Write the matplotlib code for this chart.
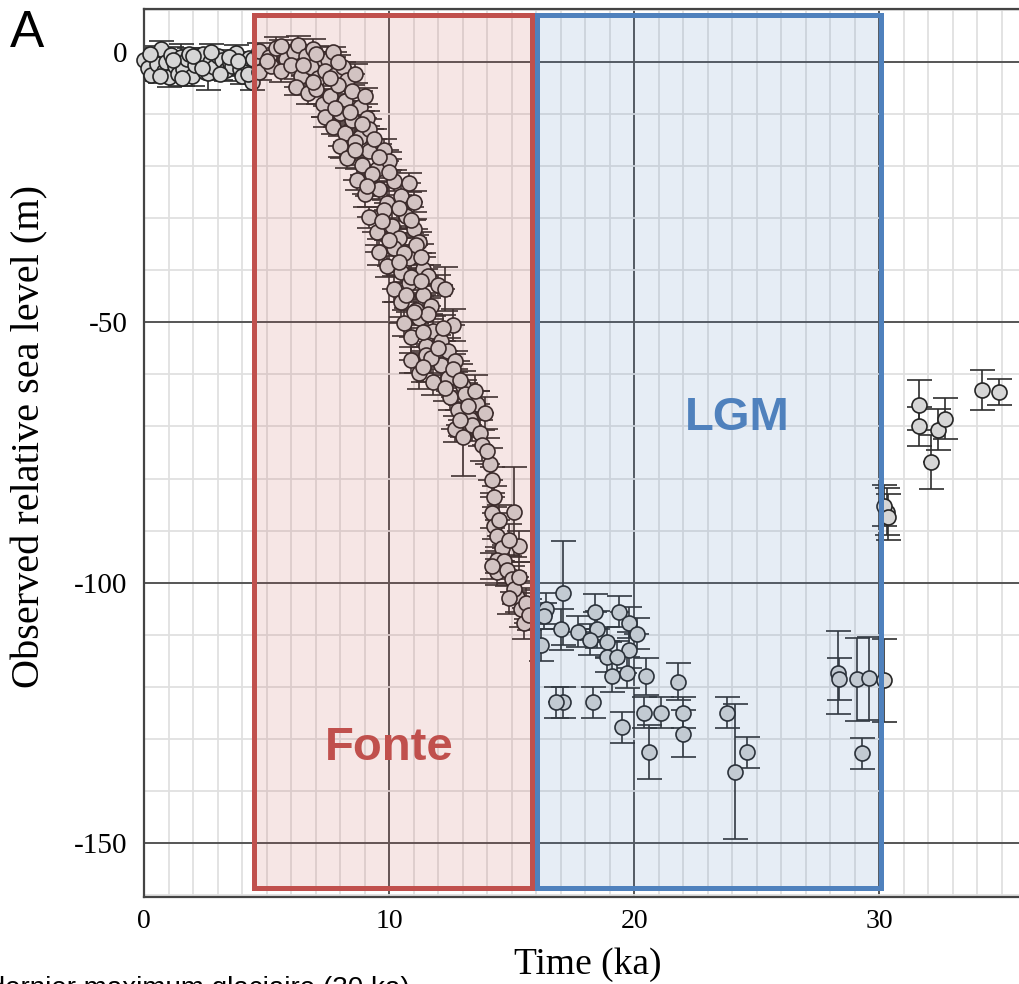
import matplotlib
matplotlib.use("Agg")
import matplotlib.pyplot as plt
import matplotlib.transforms as mtransforms
from matplotlib.patches import Rectangle
from matplotlib.ticker import MultipleLocator
import numpy as np

plt.rcParams['axes.unicode_minus'] = False

# ---- Holocene plateau (0-4.5 ka) ----
holo_t = [0.0, 0.15, 0.3, 0.45, 0.55, 0.7, 0.8, 0.9, 1.0, 1.1,
          1.25, 1.4, 1.5, 1.6, 1.75, 1.85, 1.95, 2.1, 2.25, 2.4,
          2.5, 2.6, 2.7, 2.85, 3.0, 3.2, 3.35, 3.5, 3.6, 3.75,
          3.9, 4.0, 4.15, 4.3, 4.4,
          0.25, 0.65, 1.2, 1.55, 2.0, 2.35, 2.75, 3.1, 3.45, 3.85,
          4.25, 4.45]
holo_z = [0.4, -1.2, -2.4, 1.1, -0.3, 2.6, -1.8, 0.0, -2.9, 1.4,
          -0.8, -2.2, 1.0, -1.4, 0.6, 1.5, -2.6, -0.5, 0.9, 1.6,
          -1.9, -2.1, 0.1, -1.0, 1.2, 0.4, -1.6, -0.2, -0.7, 1.8,
          -1.3, -2.7, -0.4, 0.8, -3.8,
          1.5, -2.6, 0.4, -3.0, 1.2, -1.2, 1.9, -2.3, 1.0, 0.3,
          -2.2, 0.5]
holo_terr = [0.2, 0.3, 0.15, 0.4, 0.25, 0.3, 0.2, 0.5, 0.3, 0.2,
             0.35, 0.25, 0.4, 0.2, 0.3, 0.45, 0.2, 0.3, 0.25, 0.5,
             0.2, 0.3, 0.35, 0.4, 0.25, 0.3, 0.2, 0.45, 0.3, 0.35,
             0.25, 0.4, 0.3, 0.2, 0.35,
             0.3, 0.4, 0.25, 0.3, 0.5, 0.3, 0.4, 0.35, 0.3, 0.45,
             0.3, 0.4]
holo_zerr = [1.0, 1.5, 1.2, 2.0, 1.0, 1.5, 1.2, 1.0, 1.8, 1.5,
             1.0, 1.2, 2.5, 1.0, 1.5, 1.2, 2.0, 1.0, 1.5, 1.2,
             1.0, 3.2, 1.0, 1.5, 1.2, 1.0, 2.0, 1.2, 1.0, 1.5,
             1.2, 1.5, 1.0, 1.2, 1.5,
             1.2, 1.5, 1.0, 1.5, 1.2, 1.0, 1.5, 1.2, 1.0, 1.5,
             1.2, 1.0]

# ---- Deglaciation (4.5-16 ka) ----
deglac_t = [4.7, 5.1, 5.4, 5.8, 6.1, 6.3, 6.6, 6.9, 7.2, 7.5, 7.7,
            4.7, 5.2, 5.6, 6.0, 6.4, 6.8, 7.1, 7.4, 7.8, 8.1, 8.3,
            6.2, 6.7, 7.0, 7.3, 7.6, 7.9, 8.2, 8.5, 8.8, 9.0,
            7.4, 7.7, 8.0, 8.2, 8.5, 8.8, 9.1, 9.2,
            8.0, 8.3, 8.6, 8.9, 9.2, 9.5, 9.8, 10.0,
            8.7, 9.0, 9.3, 9.6, 9.9, 10.2, 10.5, 10.8, 11.0,
            9.2, 9.5, 9.8, 10.1, 10.4, 10.7, 11.0, 11.2,
            9.6, 9.9, 10.2, 10.5, 10.8, 11.1, 11.4, 11.6,
            10.2, 10.5, 10.8, 11.1, 11.4, 11.7, 12.0, 12.3,
            10.6, 10.9, 11.2, 11.5, 11.8, 12.1, 12.4, 12.6,
            10.9, 11.2, 11.5, 11.8, 12.1, 12.4, 12.7, 13.0,
            12.5, 12.8, 13.1, 13.3, 13.6, 13.9, 12.7, 13.0, 13.4, 13.7,
            14.1, 14.2, 14.3, 14.2, 15.1, 14.3, 14.4, 14.6, 15.3, 14.4,
            14.7, 14.4, 14.8, 15.0, 15.2, 15.4, 15.5, 15.1, 15.6,
            5.0, 5.6, 6.5, 7.0, 7.9, 6.9, 7.6, 8.6,
            7.8, 8.4, 8.9, 8.6, 9.4, 9.6,
            9.1, 10.0, 10.4, 9.7, 10.9, 10.0, 10.6, 11.3, 10.4, 10.9,
            11.3, 10.7, 11.6, 11.0, 11.4, 12.2, 11.7, 12.0, 11.4, 12.6,
            12.3, 12.9, 13.2, 13.5, 12.9, 13.8, 14.0,
            14.5, 14.9, 14.2, 15.3, 14.9, 15.7]
deglac_z = [2.2, 1.0, 2.8, 0.6, 2.0, 3.3, 1.2, 2.5, 0.8, 0.4, 1.9,
            -1.9, -0.8, -1.8, -0.5, -2.6, -1.0, -3.1, -1.7, -2.4, -0.9, -3.5,
            -4.8, -6.0, -5.2, -8.0, -6.6, -4.4, -7.4, -5.6, -8.6, -6.5,
            -10.5, -12.4, -9.8, -13.6, -11.2, -14.3, -10.8, -12.9,
            -16.2, -18.5, -15.4, -19.7, -17.0, -20.6, -16.8, -19.0,
            -22.6, -25.4, -21.5, -24.3, -27.0, -22.8, -25.8, -23.2, -26.8,
            -29.8, -32.6, -28.5, -31.4, -33.8, -29.6, -32.0, -34.6,
            -36.4, -39.2, -35.8, -40.4, -37.6, -35.2, -39.7, -41.0,
            -43.5, -46.0, -42.4, -47.6, -44.7, -46.8, -42.9, -43.6,
            -50.2, -52.8, -49.1, -54.6, -51.7, -53.5, -55.6, -50.5,
            -57.3, -59.8, -56.2, -61.4, -58.2, -60.6, -57.5, -62.3,
            -64.3, -66.8, -63.7, -68.5, -65.6, -67.4, -70.4, -72.0, -69.8, -71.2,
            -77.2, -80.2, -83.5, -86.6, -86.4, -89.2, -91.0, -93.4, -93.0, -95.6,
            -95.8, -98.0, -97.6, -99.4, -102.7, -105.0, -107.8, -101.2, -104.0,
            0.2, 3.0, -0.6, 1.5, 0.1, -3.8, -3.0, -2.2,
            -8.8, -9.5, -11.8, -16.8, -14.8, -18.2,
            -23.8, -21.2, -28.0, -30.6, -30.4, -34.2, -36.6, -37.4, -38.4, -41.2,
            -42.0, -44.8, -48.4, -48.0, -51.8, -51.0, -56.8, -55.0, -58.5, -59.0,
            -62.6, -61.0, -66.0, -63.2, -68.8, -73.6, -74.8,
            -88.0, -91.8, -96.8, -99.0, -103.0, -106.2]
deglac_terr = [0.3, 0.5, 0.4, 0.6, 0.3, 0.5, 0.7, 0.4, 0.5, 0.3, 0.6,
               0.4, 0.3, 0.6, 0.5, 0.4, 0.7, 0.3, 0.5, 0.6, 0.4, 0.5,
               0.5, 0.6, 0.4, 0.7, 0.5, 0.3, 0.6, 0.4, 0.5, 0.3,
               0.6, 0.4, 0.5, 0.7, 0.3, 0.5, 0.4, 0.6,
               0.5, 0.7, 0.4, 0.6, 0.5, 0.3, 0.6, 0.4,
               0.6, 0.5, 0.7, 0.4, 0.5, 0.6, 0.3, 0.5, 0.4,
               0.5, 0.6, 0.4, 0.7, 0.5, 0.4, 0.6, 0.3,
               0.6, 0.4, 0.5, 0.7, 0.4, 0.5, 0.6, 0.4,
               0.5, 0.7, 0.4, 0.6, 0.5, 0.4, 0.6, 0.4,
               0.6, 0.5, 0.7, 0.4, 0.5, 0.6, 0.4, 0.5,
               0.5, 0.6, 0.4, 0.7, 0.5, 0.4, 0.6, 0.5,
               0.4, 0.5, 0.6, 0.3, 0.5, 0.4, 0.6, 0.5, 0.4, 0.3,
               0.2, 0.3, 0.2, 0.3, 0.2, 0.3, 0.2, 0.4, 0.3, 0.3,
               0.4, 0.3, 0.4, 0.3, 0.4, 0.3, 0.4, 0.3, 0.3,
               0.5, 0.4, 0.6, 0.5, 0.4, 0.6, 0.5, 0.4,
               0.6, 0.5, 0.5, 0.6, 0.5, 0.6,
               0.6, 0.5, 0.7, 0.5, 0.6, 0.6, 0.5, 0.6, 0.7, 0.5,
               0.6, 0.5, 0.6, 0.7, 0.5, 0.6, 0.6, 0.5, 0.6, 0.6,
               0.5, 0.7, 0.5, 0.6, 0.5, 0.4, 0.3,
               0.3, 0.4, 0.3, 0.4, 0.3, 0.3]
deglac_zerr = [1.5, 1.2, 2.0, 1.5, 1.2, 1.8, 1.5, 2.0, 1.2, 1.5, 1.0,
               1.5, 1.2, 2.0, 1.0, 1.8, 1.5, 2.2, 1.2, 1.5, 1.0, 2.0,
               1.5, 2.0, 1.2, 2.5, 1.5, 1.8, 2.0, 1.2, 3.0, 1.5,
               2.0, 1.5, 2.5, 1.8, 2.0, 3.0, 1.5, 2.0,
               2.0, 1.8, 2.5, 2.0, 1.5, 2.5, 2.0, 1.8,
               2.0, 2.5, 1.8, 2.0, 3.0, 2.0, 2.5, 1.8, 2.0,
               2.0, 2.5, 2.0, 3.0, 2.0, 2.5, 1.8, 2.0,
               2.5, 2.0, 3.0, 2.0, 2.5, 2.0, 3.0, 2.0,
               2.5, 3.0, 2.0, 2.5, 3.0, 2.5, 2.0, 4.2,
               2.5, 3.0, 2.0, 2.5, 3.0, 2.0, 2.5, 3.0,
               2.5, 3.0, 2.0, 2.5, 3.0, 2.5, 2.0, 3.0,
               2.5, 3.0, 2.0, 3.0, 2.5, 3.0, 2.5, 7.6, 3.0, 2.5,
               3.0, 2.5, 2.0, 3.0, 8.7, 2.5, 3.0, 2.5, 3.0, 2.5,
               3.0, 2.5, 3.0, 2.5, 3.0, 3.5, 3.0, 3.0, 3.0,
               1.5, 1.2, 1.8, 1.5, 1.2, 2.0, 1.5, 1.8,
               2.0, 2.0, 2.5, 2.0, 2.0, 2.5,
               2.0, 2.5, 2.5, 2.0, 2.5, 2.5, 3.0, 2.5, 2.5, 2.5,
               3.0, 2.5, 3.0, 2.5, 3.0, 2.5, 3.0, 2.5, 3.0, 3.0,
               2.5, 3.0, 2.5, 3.0, 3.0, 3.0, 2.5,
               3.0, 3.0, 2.5, 3.0, 3.0, 3.0]

# ---- Last Glacial Maximum lowstand (16-25 ka) ----
lgm_t = [16.4, 16.3, 16.2, 17.1, 18.4, 19.4, 19.8, 20.1, 17.0, 17.7,
         18.5, 18.2, 18.9, 19.8, 18.9, 19.3, 19.1, 19.7, 20.5, 21.8,
         17.1, 18.3, 16.8, 20.4, 21.1, 22.0, 22.0, 19.5, 20.6, 23.8,
         24.6, 24.1]
lgm_z = [-105.0, -106.5, -112.0, -102.0, -105.6, -105.6, -107.7, -109.8, -109.0, -109.4,
         -109.0, -111.0, -111.5, -112.9, -114.2, -114.2, -118.0, -117.3, -118.0, -119.0,
         -123.0, -123.0, -123.0, -125.0, -125.0, -125.0, -129.0, -127.8, -132.6, -125.0,
         -132.6, -136.3]
lgm_terr = [0.3, 0.4, 0.3, 0.2, 0.5, 0.4, 0.3, 0.5, 0.4, 0.6,
            0.5, 0.4, 0.6, 0.3, 0.5, 0.4, 0.3, 0.4, 0.2, 0.2,
            0.3, 0.2, 0.3, 0.2, 0.2, 0.2, 0.2, 0.2, 0.2, 0.2,
            0.2, 0.2]
lgm_zerr = [3.0, 2.5, 3.0, 10.0, 3.4, 3.0, 3.0, 3.0, 4.0, 3.0,
            3.5, 3.0, 3.0, 3.5, 3.0, 3.0, 3.0, 3.0, 3.5, 3.5,
            3.0, 3.0, 3.0, 3.0, 3.0, 3.0, 4.5, 3.0, 5.2, 3.0,
            3.0, 13.0]

# ---- Pre-LGM (28-35 ka) ----
pre_t = [28.3, 28.35, 29.1, 29.6, 30.2, 29.3, 30.3, 30.2, 30.35, 31.6,
         31.6, 32.1, 32.4, 32.7, 34.2, 34.9]
pre_z = [-117.3, -118.5, -118.6, -118.4, -118.8, -132.8, -86.4, -85.2, -87.4, -65.8,
         -70.0, -76.8, -70.6, -68.5, -63.0, -63.3]
pre_terr = [0.2, 0.2, 0.2, 0.2, 0.2, 0.2, 0.2, 0.2, 0.2, 0.2,
            0.2, 0.3, 0.3, 0.3, 0.2, 0.2]
pre_zerr = [8.0, 4.0, 8.0, 8.0, 8.0, 3.0, 4.5, 4.0, 4.5, 4.8,
            3.7, 5.2, 4.0, 4.0, 3.8, 2.5]

# Periods highlighted on the chart (ka)
melt_period = (4.5, 15.85)
lgm_period = (16.05, 30.05)
period_labels = ["Fonte", "LGM"]

time_ka = np.array(holo_t + deglac_t + lgm_t + pre_t)
rsl_m = np.array(holo_z + deglac_z + lgm_z + pre_z)
time_err = np.array(holo_terr + deglac_terr + lgm_terr + pre_terr)
rsl_err = np.array(holo_zerr + deglac_zerr + lgm_zerr + pre_zerr)

W, H = 1019, 984
fig = plt.figure(figsize=(W / 100, H / 100), dpi=100)
ax = fig.add_axes([144 / W, 1 - 897 / H, 1 - 144 / W, (897 - 9) / H])
ax.set_xlim(0, 35.7)
ax.set_ylim(-160.4, 10.2)

# grid
ax.xaxis.set_major_locator(MultipleLocator(10))
ax.yaxis.set_major_locator(MultipleLocator(50))
ax.xaxis.set_minor_locator(MultipleLocator(1))
ax.yaxis.set_minor_locator(MultipleLocator(10))
ax.set_axisbelow(True)
ax.grid(which='minor', color='#e0e0e0', lw=1.3)
ax.grid(which='major', color='#555555', lw=1.4)

serif = ['Liberation Serif', 'DejaVu Serif']
ax.tick_params(which='both', length=0)
ax.tick_params(axis='y', pad=12, labelsize=21)
ax.tick_params(axis='x', pad=9, labelsize=20)
for lab in ax.get_xticklabels() + ax.get_yticklabels():
    lab.set_family(serif)

# the "0" label sits a little above its grid line
for tick in ax.yaxis.get_major_ticks():
    if abs(tick.get_loc()) < 1e-9:
        tick.label1.set_transform(tick.label1.get_transform() +
                                  mtransforms.ScaledTranslation(0, 0.10, fig.dpi_scale_trans))

for side in ['left', 'top', 'bottom']:
    ax.spines[side].set_color('#444444')
    ax.spines[side].set_linewidth(1.6)
ax.spines['right'].set_visible(False)

# observations with age and elevation uncertainties
ax.errorbar(time_ka, rsl_m, xerr=time_err, fmt='none', ecolor='#2e2e2e',
            elinewidth=1.2, capsize=0, zorder=2)
ax.errorbar(time_ka, rsl_m, yerr=rsl_err, fmt='none', ecolor='#2e2e2e',
            elinewidth=1.2, capsize=9, capthick=1.2, zorder=2)
ax.plot(time_ka, rsl_m, 'o', ms=10.8, mfc='#d6d6d6', mec='#262626', mew=1.2,
        zorder=3, clip_on=False)

# shaded periods
box_bottom, box_top = -158.7, 9.1
for (x0, x1), col in [(melt_period, '#c0504d'), (lgm_period, '#4f81bd')]:
    ax.add_patch(Rectangle((x0, box_bottom), x1 - x0, box_top - box_bottom,
                           facecolor=col, alpha=0.14, edgecolor='none', zorder=5))
    ax.add_patch(Rectangle((x0, box_bottom), x1 - x0, box_top - box_bottom,
                           facecolor='none', edgecolor=col, lw=3.6, zorder=6))

sans = ['Liberation Sans', 'DejaVu Sans']
ax.text(10.0, -131.7, period_labels[0], color='#c0504d', fontsize=34,
        fontweight='bold', family=sans, ha='center', va='center', zorder=7)
ax.text(24.2, -68.3, period_labels[1], color='#4f81bd', fontsize=34,
        fontweight='bold', family=sans, ha='center', va='center', zorder=7)

fig.text(30 / W, 1 - 437 / H, 'Observed relative sea level (m)', rotation=90,
         ha='center', va='center', fontsize=29, family=serif)
fig.text(588 / W, 1 - 965 / H, 'Time (ka)', ha='center', va='center',
         fontsize=27, family=serif)
fig.text(10 / W, 1 - 47 / H, 'A', fontsize=37, family=sans, va='baseline')
# caption line running off the bottom edge
fig.text(410 / W, 1 - 996 / H, 'depuis le dernier maximum glaciaire (30 ka)',
         ha='right', va='baseline', fontsize=20, family=sans)

fig.savefig('out.png', dpi=100)
